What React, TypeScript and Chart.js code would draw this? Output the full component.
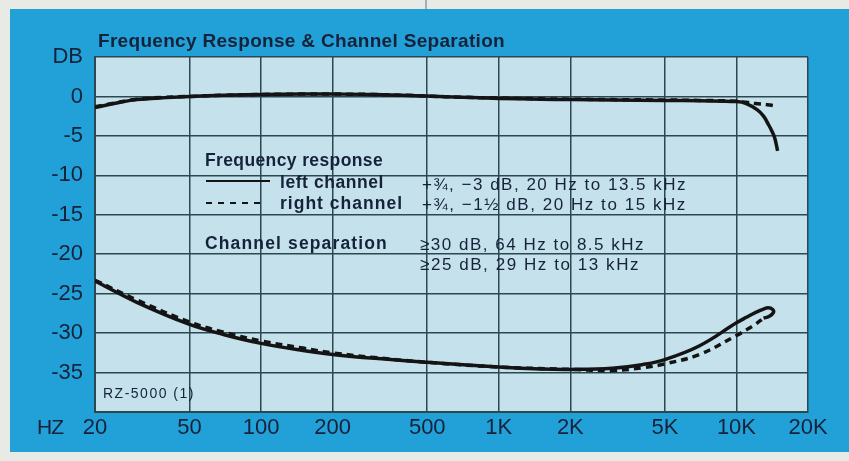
import React, { useEffect, useRef } from "react";
import { Chart, registerables } from "chart.js";

Chart.register(...registerables);

// ---- Data ----
const xTickValues = [20, 50, 100, 200, 500, 1000, 2000, 5000, 10000, 20000];
const xTickLabels = ["20", "50", "100", "200", "500", "1K", "2K", "5K", "10K", "20K"];
const yTickValues = [5, 0, -5, -10, -15, -20, -25, -30, -35, -40];
const yTickLabels = ["DB", "0", "-5", "-10", "-15", "-20", "-25", "-30", "-35", ""];

const frLeftFreq = [20, 25, 30, 40, 50, 70, 100, 150, 200, 300, 500, 700, 1000, 1500, 2000, 3000, 5000, 7000, 10000, 11000, 12250, 13000, 13600, 14100, 14500, 14900];
const frLeftDb = [-1.4, -0.8, -0.4, -0.15, 0, 0.15, 0.25, 0.3, 0.3, 0.25, 0.05, -0.1, -0.25, -0.35, -0.4, -0.45, -0.5, -0.55, -0.65, -0.9, -1.7, -2.5, -3.5, -4.4, -5.3, -6.9];

const frRightFreq = [20, 25, 30, 40, 50, 70, 100, 150, 200, 300, 500, 700, 1000, 1500, 2000, 3000, 5000, 7000, 10000, 11000, 12000, 13500, 14900];
const frRightDb = [-1.3, -0.75, -0.35, -0.1, 0, 0.15, 0.25, 0.3, 0.3, 0.25, 0.05, -0.1, -0.2, -0.3, -0.35, -0.4, -0.45, -0.5, -0.6, -0.75, -0.9, -1.05, -1.25];

const sepLeftFreq = [20, 30, 50, 70, 100, 150, 200, 300, 500, 1000, 1500, 2000, 3000, 4000, 5000, 7000, 10000, 11000, 12000, 13000, 13600, 14200, 14300, 13700, 13000];
const sepLeftDb = [-23.4, -26.1, -28.9, -30.2, -31.3, -32.2, -32.7, -33.2, -33.7, -34.3, -34.55, -34.6, -34.45, -34.0, -33.35, -31.6, -28.7, -28.0, -27.4, -26.95, -26.8, -27.0, -27.4, -27.9, -28.1];

const sepRightFreq = [20, 30, 50, 70, 100, 150, 200, 300, 500, 1000, 2000, 3000, 4000, 5000, 7000, 10000, 11000, 12000, 13000];
const sepRightDb = [-23.3, -25.8, -28.6, -29.9, -31.0, -31.9, -32.5, -33.1, -33.7, -34.3, -34.6, -34.75, -34.4, -33.9, -32.7, -30.3, -29.6, -28.9, -28.1];

const titleText = "Frequency Response & Channel Separation";
const legendHeads = ["Frequency response", "left channel", "right channel", "Channel separation"];
const legendValues = [
  "+\u00BE, \u22123 dB, 20 Hz to 13.5 kHz",
  "+\u00BE, \u22121\u00BD dB, 20 Hz to 15 kHz",
  "\u226530 dB, 64 Hz to 8.5 kHz",
  "\u226525 dB, 29 Hz to 13 kHz",
];
const modelText = "RZ-5000 (1)";
const xUnitText = "HZ";

const FONT = '"Liberation Sans", Arial, Helvetica, sans-serif';
const INK = "#16223a";
const CURVE = "#141414";
const GRID = "#2c4750";

function pts(xs: number[], ys: number[]) {
  return xs.map((x, i) => ({ x, y: ys[i] }));
}

function drawFit(ctx: CanvasRenderingContext2D, text: string, x: number, y: number, width: number, font: string) {
  ctx.save();
  ctx.font = font;
  (ctx as any).letterSpacing = "0px";
  const w = ctx.measureText(text).width;
  const n = Array.from(text).length;
  const ls = n > 1 ? (width - w) / n : 0;
  (ctx as any).letterSpacing = ls.toFixed(2) + "px";
  ctx.textAlign = "left";
  ctx.textBaseline = "middle";
  ctx.fillStyle = INK;
  ctx.fillText(text, x, y);
  ctx.restore();
}

const decorPlugin = {
  id: "decor",
  beforeDraw(chart: any) {
    const { ctx, width, height, chartArea } = chart;
    ctx.save();
    ctx.fillStyle = "#e8ebe5";
    ctx.fillRect(0, 0, width, height);
    ctx.fillStyle = "#22a0d8";
    ctx.fillRect(10, 9, width - 10, 443);
    ctx.strokeStyle = "#8a9aa0";
    ctx.lineWidth = 1.5;
    ctx.beginPath();
    ctx.moveTo(426, 0);
    ctx.lineTo(426, 9);
    ctx.stroke();
    ctx.fillStyle = "#c5e2ec";
    ctx.fillRect(chartArea.left, chartArea.top, chartArea.right - chartArea.left, chartArea.bottom - chartArea.top);
    ctx.restore();
  },
  afterDatasetsDraw(chart: any) {
    const { ctx } = chart;
    drawFit(ctx, titleText, 98, 42, 407, `bold 19px ${FONT}`);
    drawFit(ctx, legendHeads[0], 205, 161, 178, `bold 17.5px ${FONT}`);
    drawFit(ctx, legendHeads[1], 280, 183, 104, `bold 17.5px ${FONT}`);
    drawFit(ctx, legendHeads[2], 280, 204, 123, `bold 17.5px ${FONT}`);
    drawFit(ctx, legendHeads[3], 205, 244, 183, `bold 17.5px ${FONT}`);
    drawFit(ctx, legendValues[0], 422, 185, 265, `17px ${FONT}`);
    drawFit(ctx, legendValues[1], 422, 205, 265, `17px ${FONT}`);
    drawFit(ctx, legendValues[2], 420, 245, 225, `17px ${FONT}`);
    drawFit(ctx, legendValues[3], 420, 265, 220, `17px ${FONT}`);
    drawFit(ctx, modelText, 103, 394, 92, `14px ${FONT}`);
    drawFit(ctx, xUnitText, 37, 428, 26, `21px ${FONT}`);
    ctx.save();
    ctx.strokeStyle = CURVE;
    ctx.lineWidth = 2;
    ctx.beginPath();
    ctx.moveTo(206, 181);
    ctx.lineTo(270, 181);
    ctx.stroke();
    ctx.setLineDash([6, 6]);
    ctx.beginPath();
    ctx.moveTo(206, 203);
    ctx.lineTo(266, 203);
    ctx.stroke();
    ctx.restore();
  },
};

export default function App() {
  const ref = useRef<HTMLCanvasElement | null>(null);
  useEffect(() => {
    if (!ref.current) return;
    const chart = new Chart(ref.current, {
      type: "line",
      data: {
        datasets: [
          { data: pts(frLeftFreq, frLeftDb), borderColor: CURVE, borderWidth: 3.5, tension: 0.4 },
          { data: pts(frRightFreq, frRightDb), borderColor: CURVE, borderWidth: 3.5, borderDash: [7, 5], tension: 0.4 },
          { data: pts(sepLeftFreq, sepLeftDb), borderColor: CURVE, borderWidth: 3.5, tension: 0.4 },
          { data: pts(sepRightFreq, sepRightDb), borderColor: CURVE, borderWidth: 3.5, borderDash: [7, 5], tension: 0.4 },
        ],
      },
      options: {
        animation: false,
        responsive: false,
        parsing: false as any,
        normalized: true,
        elements: { point: { radius: 0 }, line: { capBezierPoints: true, borderCapStyle: "butt" } },
        layout: { padding: { top: 57, right: 41, left: 0, bottom: 0 } },
        plugins: { legend: { display: false }, tooltip: { enabled: false }, title: { display: false } },
        scales: {
          x: {
            type: "logarithmic",
            min: 20,
            max: 20000,
            afterBuildTicks: (s: any) => {
              s.ticks = xTickValues.map((v) => ({ value: v }));
            },
            afterFit: (s: any) => {
              s.height = 49;
            },
            ticks: {
              autoSkip: false,
              maxRotation: 0,
              padding: 3,
              color: INK,
              font: { family: FONT, size: 22 },
              callback: (v: any) => {
                const i = xTickValues.indexOf(Number(v));
                return i >= 0 ? xTickLabels[i] : "";
              },
            },
            grid: { color: GRID, lineWidth: 1.5, drawTicks: false },
            border: { display: true, color: GRID, width: 2 },
          },
          y: {
            type: "linear",
            min: -40,
            max: 5,
            afterBuildTicks: (s: any) => {
              s.ticks = yTickValues.map((v) => ({ value: v }));
            },
            afterFit: (s: any) => {
              s.width = 95;
            },
            ticks: {
              padding: 12,
              color: INK,
              font: { family: FONT, size: 22 },
              callback: (v: any) => {
                const i = yTickValues.indexOf(Number(v));
                return i >= 0 ? yTickLabels[i] : "";
              },
            },
            grid: { color: GRID, lineWidth: 1.5, drawTicks: false },
            border: { display: true, color: GRID, width: 2 },
          },
        },
      },
      plugins: [decorPlugin],
    });
    return () => chart.destroy();
  }, []);
  return (
    <div style={{ position: "absolute", left: 0, top: 0, width: 849, height: 461 }}>
      <canvas ref={ref} width={849} height={461} style={{ display: "block" }} />
    </div>
  );
}
